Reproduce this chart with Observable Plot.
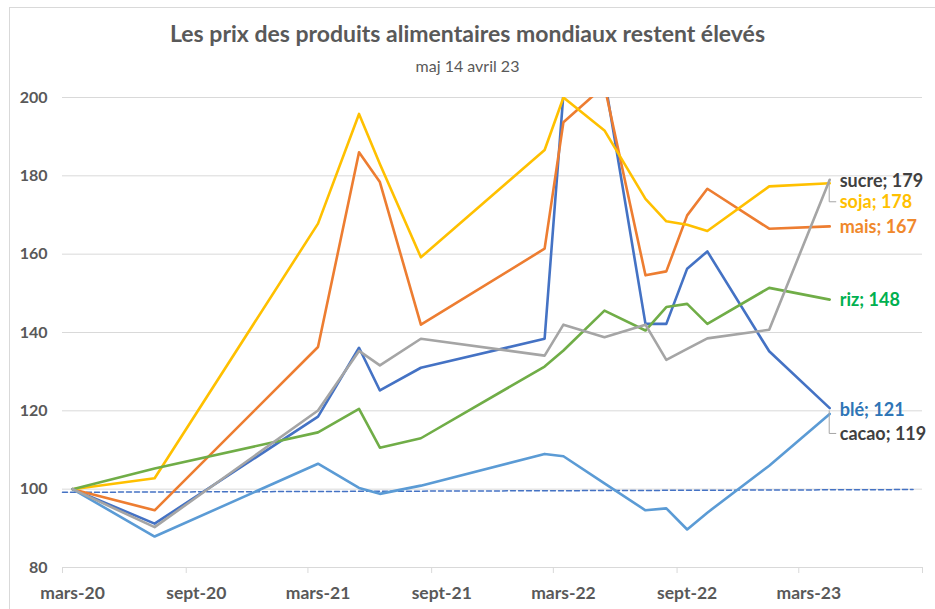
<!DOCTYPE html>
<html>
<head>
<meta charset="utf-8">
<script src="https://cdn.jsdelivr.net/npm/d3@7"></script>
<script src="https://cdn.jsdelivr.net/npm/@observablehq/plot@0.6"></script>
<style>
  html, body { margin: 0; padding: 0; background: #fff; }
  #wrap { position: relative; width: 935px; height: 609px; overflow: hidden; font-family: Lato, "Open Sans", sans-serif; }
  #frame { position: absolute; left: 9px; top: 7px; width: 940px; height: 620px; border: 1px solid #d9d9d9; }
  #title { position: absolute; top: 19px; left: 0; width: 935px; text-align: center; font-size: 23px; line-height: 28px; font-weight: bold; color: #595959; }
  #subtitle { position: absolute; top: 56px; left: 0; width: 935px; text-align: center; font-size: 16px; line-height: 20px; color: #595959; }
  #chart { position: absolute; top: 80px; left: 0; }
</style>
</head>
<body>
<div id="wrap">
  <div id="frame"></div>
  <div id="title">Les prix des produits alimentaires mondiaux restent élevés</div>
  <div id="subtitle">maj 14 avril 23</div>
  <div id="chart"></div>
</div>
<script>
// ---- data ----
const months = ["2020-03","2020-07","2021-03","2021-05","2021-06","2021-08","2022-02","2022-03","2022-05","2022-07","2022-08","2022-09","2022-10","2023-01","2023-04"];
const ble   = [100, 91.2, 118.5, 136.1, 125.2, 131.0, 138.4, 201.0, 205.0, 142.2, 142.2, 156.3, 160.7, 135.2, 120.7];
const mais  = [100, 94.6, 136.3, 186.0, 178.4, 142.0, 161.4, 193.7, 203.0, 154.6, 155.6, 169.9, 176.7, 166.5, 167.1];
const soja  = [100, 102.8, 167.8, 195.8, 183.0, 159.2, 186.6, 200.0, 191.6, 174.1, 168.4, 167.5, 165.9, 177.3, 178.1];
const riz   = [100, 105.3, 114.5, 120.5, 110.6, 113.0, 131.3, 135.4, 145.6, 140.5, 146.5, 147.3, 142.2, 151.4, 148.4];
const sucre = [100, 90.3, 120.1, 135.3, 131.6, 138.4, 134.1, 142.0, 138.8, 142.0, 133.0, 135.8, 138.5, 140.7, 179.0];
const cacao = [100, 87.9, 106.5, 100.3, 98.8, 100.9, 109.0, 108.4, 101.5, 94.6, 95.1, 89.7, 94.0, 106.0, 119.2];
const seriesNames = ["blé", "mais", "soja", "riz", "cacao", "sucre"];
const seriesValues = [ble, mais, soja, riz, cacao, sucre];
const refDates = ["2020-03-01", "2023-08-18"];
const refValues = [99.2, 99.9];
const tickMonths = ["2020-03","2020-09","2021-03","2021-09","2022-03","2022-09","2023-03","2023-09"];
const tickLabels = ["mars-20","sept-20","mars-21","sept-21","mars-22","sept-22","mars-23"];
const yTicks = [80, 100, 120, 140, 160, 180, 200];

// ---- styles ----
const lineColor  = {"blé": "#4472C4", "mais": "#ED7D31", "soja": "#FFC000", "riz": "#70AD47", "cacao": "#5B9BD5", "sucre": "#A5A5A5"};
const labelColor = {"blé": "#2E75B6", "mais": "#F0882C", "soja": "#FFC000", "riz": "#00B050", "cacao": "#404040", "sucre": "#404040"};
const labelDy    = {"blé": 2, "mais": 1, "soja": 19, "riz": 1, "cacao": 20, "sucre": 1};
const leaderFor  = ["soja", "cacao"];

const monthStart = s => { const [y, m] = s.split("-").map(Number); return new Date(Date.UTC(y, m - 1, 1)); };
const monthMid   = s => { const [y, m] = s.split("-").map(Number); return new Date(Date.UTC(y, m - 1, 16)); };

const rows = [];
seriesNames.forEach((name, i) => {
  seriesValues[i].forEach((v, j) => rows.push({name, date: monthMid(months[j]), value: v}));
});
const refRows = refDates.map((d, i) => ({date: new Date(d + "T00:00:00Z"), value: refValues[i]}));
const lastRows = seriesNames.map((name, i) => {
  const vals = seriesValues[i];
  return {name, date: monthMid(months[months.length - 1]), value: vals[vals.length - 1], label: `${name}; ${Math.round(vals[vals.length - 1])}`};
});

const gray = "#595959";
const plot = Plot.plot({
  width: 935,
  height: 529,
  marginLeft: 62,
  marginRight: 13,
  marginTop: 17,
  marginBottom: 42,
  style: {fontFamily: "Lato, 'Open Sans', sans-serif", fontSize: "15px", color: gray, background: "transparent", overflow: "visible"},
  x: {type: "utc", domain: [monthStart(tickMonths[0]), monthStart(tickMonths[tickMonths.length - 1])]},
  y: {domain: [80, 200]},
  marks: [
    Plot.gridY(yTicks, {stroke: "#D9D9D9", strokeOpacity: 1, strokeWidth: 1}),
    Plot.axisY(yTicks, {tickSize: 0, tickPadding: 15, fontWeight: "bold", fontSize: 16, fill: gray, label: null}),
    Plot.axisX(tickMonths.map(monthStart), {tickSize: 6, stroke: "#D9D9D9", text: null, label: null}),
    Plot.axisX(tickMonths.slice(0, -1).map(monthMid), {tickSize: 0, tickPadding: 19, tickFormat: (d, i) => tickLabels[i], fontWeight: "bold", fontSize: 17.5, fill: gray, label: null}),
    Plot.line(refRows, {x: "date", y: "value", stroke: "#4472C4", strokeWidth: 1.5, strokeDasharray: "5,3"}),
    ...seriesNames.map(name => Plot.line(rows.filter(r => r.name === name), {
      x: "date", y: "value", stroke: lineColor[name], strokeWidth: 2.6, strokeLinejoin: "round", strokeLinecap: "round", clip: true
    })),
    (index, scales) => {
      const g = d3.create("svg:g");
      for (const name of leaderFor) {
        const r = lastRows.find(d => d.name === name);
        const px = scales.x(r.date), py = scales.y(r.value);
        g.append("path")
          .attr("d", `M${px},${py - 3}V${py + labelDy[name]}H${px + 7}`)
          .attr("fill", "none").attr("stroke", "#A6A6A6").attr("stroke-width", 1);
      }
      return g.node();
    },
    ...lastRows.map(r => Plot.text([r], {
      x: "date", y: "value", text: "label", dx: 10, dy: labelDy[r.name], textAnchor: "start",
      fill: labelColor[r.name], fontWeight: "bold", fontSize: 18
    }))
  ]
});
document.getElementById("chart").appendChild(plot);
</script>
</body>
</html>
